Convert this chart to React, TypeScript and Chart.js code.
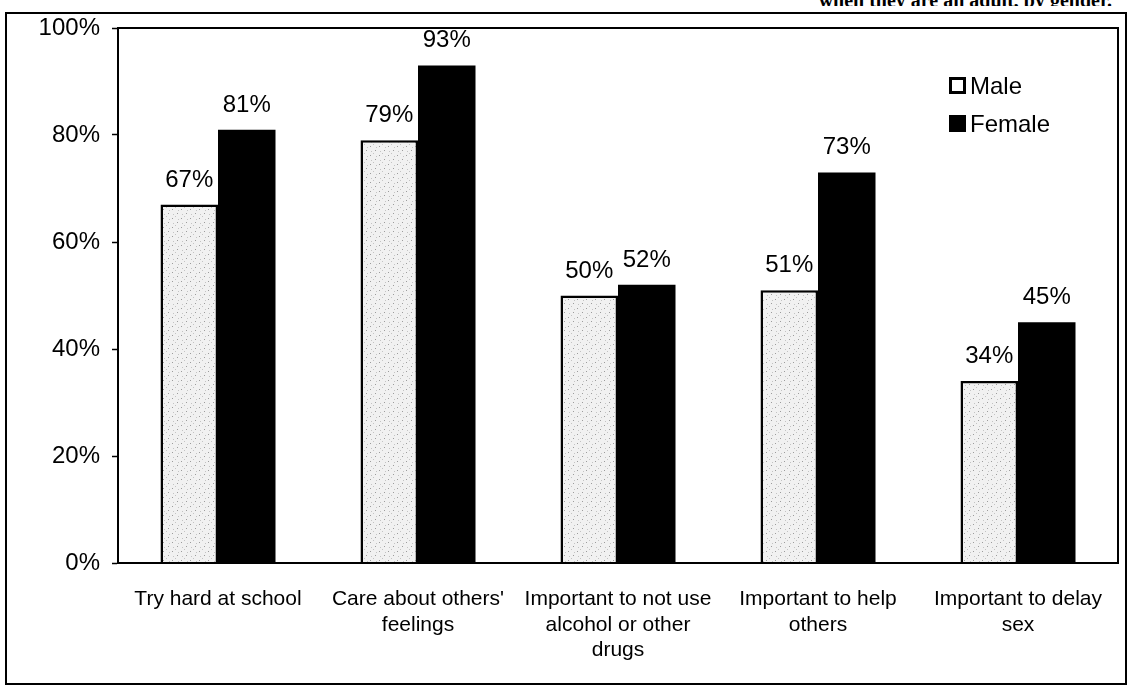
import React, { useEffect, useRef } from "react";
import { Chart, registerables } from "chart.js";

Chart.register(...registerables);

const categories: string[][] = [
  ["Try hard at school"],
  ["Care about others'", "feelings"],
  ["Important to not use", "alcohol or other", "drugs"],
  ["Important to help", "others"],
  ["Important to delay", "sex"],
];
const maleValues = [67, 79, 50, 51, 34];
const femaleValues = [81, 93, 52, 73, 45];
const yTicks = [0, 20, 40, 60, 80, 100];
const seriesNames = ["Male", "Female"];

const FONT = "'Liberation Sans', Arial, Helvetica, sans-serif";

function makeStipple(): CanvasPattern | string {
  const c = document.createElement("canvas");
  c.width = 9;
  c.height = 9;
  const g = c.getContext("2d");
  if (!g) return "#eeeeee";
  g.fillStyle = "#f1f1f1";
  g.fillRect(0, 0, 9, 9);
  g.fillStyle = "#9c9c9c";
  g.fillRect(1, 2, 1, 1);
  g.fillRect(6, 6, 1, 1);
  g.fillStyle = "#c4c4c4";
  g.fillRect(4, 0, 1, 1);
  g.fillRect(7, 3, 1, 1);
  g.fillRect(2, 7, 1, 1);
  const p = g.createPattern(c, "repeat");
  return p || "#eeeeee";
}

const framePlugin = {
  id: "plotFrame",
  afterDraw(chart: any) {
    const { ctx, chartArea } = chart;
    ctx.save();
    ctx.strokeStyle = "#000";
    ctx.lineWidth = 2;
    ctx.strokeRect(chartArea.left, chartArea.top, chartArea.right - chartArea.left, chartArea.bottom - chartArea.top);
    ctx.restore();
  },
};

const valueLabelPlugin = {
  id: "valueLabels",
  afterDatasetsDraw(chart: any) {
    const { ctx } = chart;
    ctx.save();
    ctx.font = `24px ${FONT}`;
    ctx.fillStyle = "#000";
    ctx.textAlign = "center";
    ctx.textBaseline = "alphabetic";
    chart.data.datasets.forEach((ds: any, i: number) => {
      const meta = chart.getDatasetMeta(i);
      meta.data.forEach((bar: any, j: number) => {
        ctx.fillText(`${ds.data[j]}%`, bar.x, bar.y - 18);
      });
    });
    ctx.restore();
  },
};

const legendPlugin = {
  id: "insideLegend",
  afterDraw(chart: any) {
    const { ctx, chartArea } = chart;
    const x = chartArea.right - 169;
    let y = chartArea.top + 49;
    ctx.save();
    ctx.font = `24px ${FONT}`;
    ctx.textBaseline = "alphabetic";
    ctx.textAlign = "left";
    chart.data.datasets.forEach((ds: any) => {
      const s = 17;
      if (ds.legendFill === "white") {
        ctx.fillStyle = "#fff";
        ctx.fillRect(x, y, s, s);
        ctx.strokeStyle = "#000";
        ctx.lineWidth = 3;
        ctx.strokeRect(x + 1.5, y + 1.5, s - 3, s - 3);
      } else {
        ctx.fillStyle = "#000";
        ctx.fillRect(x, y, s, s);
      }
      ctx.fillStyle = "#000";
      ctx.fillText(ds.label, x + 21, y + s);
      y += 38;
    });
    ctx.restore();
  },
};

export default function App() {
  const ref = useRef<HTMLCanvasElement | null>(null);

  useEffect(() => {
    if (!ref.current) return;
    const chart = new Chart(ref.current, {
      type: "bar",
      data: {
        labels: categories as any,
        datasets: [
          {
            label: seriesNames[0],
            data: maleValues,
            backgroundColor: makeStipple() as any,
            borderColor: "#000",
            borderWidth: 2.5,
            legendFill: "white",
          } as any,
          {
            label: seriesNames[1],
            data: femaleValues,
            backgroundColor: "#000",
            borderColor: "#000",
            borderWidth: 0,
            legendFill: "black",
          } as any,
        ],
      },
      options: {
        animation: false,
        responsive: false,
        maintainAspectRatio: false,
        devicePixelRatio: 1,
        layout: { padding: { top: 28, right: 13, left: 0, bottom: 0 } },
        datasets: {
          bar: { barPercentage: 1, categoryPercentage: 0.575 },
        },
        plugins: {
          legend: { display: false },
          title: { display: false },
          tooltip: { enabled: false },
        },
        scales: {
          x: {
            grid: { display: false, drawTicks: false },
            border: { display: true, color: "#000", width: 2 },
            ticks: {
              color: "#000",
              font: { family: FONT, size: 21, lineHeight: 1.2 },
              padding: 24,
              maxRotation: 0,
              autoSkip: false,
            },
            afterFit(scale: any) {
              scale.height = 694 - 563;
            },
          },
          y: {
            min: 0,
            max: 100,
            afterBuildTicks(scale: any) {
              scale.ticks = yTicks.map((v) => ({ value: v }));
            },
            grid: {
              drawOnChartArea: false,
              drawTicks: true,
              tickLength: 6,
              color: "#000",
              tickColor: "#000",
              tickWidth: 1.5,
            },
            border: { display: true, color: "#000", width: 2 },
            ticks: {
              color: "#000",
              font: { family: FONT, size: 24 },
              padding: 12,
              callback: (v: any) => `${v}%`,
            },
            afterFit(scale: any) {
              scale.width = 118;
            },
          },
        },
      },
      plugins: [framePlugin, valueLabelPlugin, legendPlugin],
    });
    return () => chart.destroy();
  }, []);

  return (
    <div style={{ position: "absolute", left: 0, top: 0, width: 1131, height: 694, background: "#fff", overflow: "hidden" }}>
      <div
        style={{
          position: "absolute",
          left: 0,
          top: 0,
          width: 1112,
          height: 6,
          overflow: "hidden",
          textAlign: "right",
        }}
      >
        <div
          style={{
            position: "absolute",
            right: 0,
            top: -10,
            whiteSpace: "nowrap",
            font: "bold 20px 'Liberation Serif', 'Times New Roman', serif",
            lineHeight: "20px",
          }}
        >
          when they are an adult, by gender.
        </div>
      </div>
      <div
        style={{
          position: "absolute",
          left: 5,
          top: 12,
          width: 1122,
          height: 673,
          border: "2px solid #000",
          boxSizing: "border-box",
        }}
      />
      <canvas ref={ref} width={1131} height={694} style={{ position: "absolute", left: 0, top: 0 }} />
    </div>
  );
}
